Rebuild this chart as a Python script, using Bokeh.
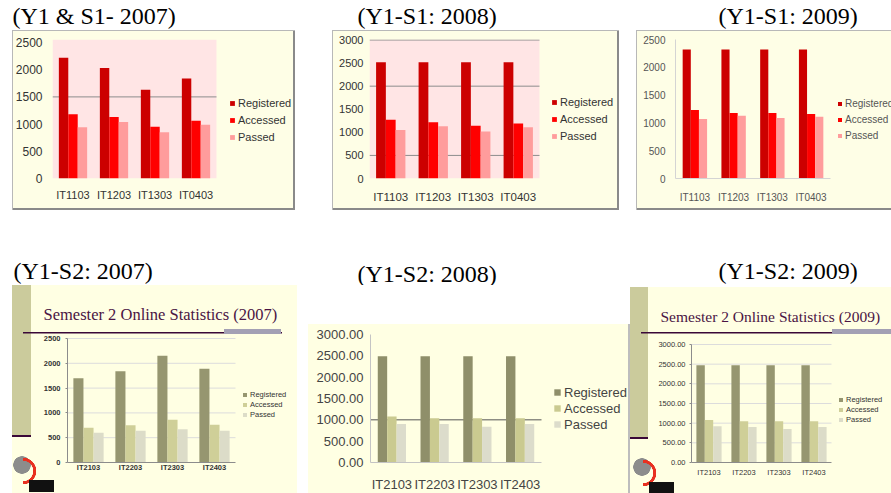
from bokeh.plotting import figure
from bokeh.models import (Range1d, FixedTicker, Legend, LegendItem, BoxAnnotation,
                          Spacer, ColumnDataSource, PrintfTickFormatter)
from bokeh.transform import dodge
from bokeh.layouts import row, column
from bokeh.embed import file_html
from bokeh.resources import INLINE
from bokeh.core.properties import value

SERIES = ["Registered", "Accessed", "Passed"]

# ---- data ----
s1_cats = ["IT1103", "IT1203", "IT1303", "IT0403"]
s1_2007_reg = [2220, 2030, 1630, 1840]
s1_2007_acc = [1180, 1130, 950, 1060]
s1_2007_pas = [940, 1040, 850, 990]

s1_2008_reg = [2520, 2520, 2520, 2520]
s1_2008_acc = [1270, 1220, 1140, 1190]
s1_2008_pas = [1050, 1130, 1020, 1110]

s1_2009_reg = [2320, 2320, 2320, 2320]
s1_2009_acc = [1230, 1180, 1180, 1160]
s1_2009_pas = [1070, 1130, 1090, 1110]

s2_cats = ["IT2103", "IT2203", "IT2303", "IT2403"]
s2_2007_reg = [1700, 1840, 2150, 1890]
s2_2007_acc = [700, 750, 860, 760]
s2_2007_pas = [600, 640, 670, 640]

s2_2008_reg = [2490, 2490, 2490, 2490]
s2_2008_acc = [1080, 1040, 1040, 1040]
s2_2008_pas = [900, 900, 840, 900]

s2_2009_reg = [2470, 2470, 2470, 2470]
s2_2009_acc = [1080, 1050, 1050, 1050]
s2_2009_pas = [920, 900, 850, 900]

ticks_2500 = [0, 500, 1000, 1500, 2000, 2500]
ticks_3000 = [0, 500, 1000, 1500, 2000, 2500, 3000]

top_titles = ["(Y1 & S1- 2007)", "(Y1-S1: 2008)", "(Y1-S1: 2009)"]
bottom_titles = ["(Y1-S2: 2007)", "(Y1-S2: 2008)", "(Y1-S2: 2009)"]
slide_titles = ["Semester 2 Online Statistics (2007)", "Semester 2 Online Statistics (2009)"]

RED = ["#cc0000", "#ff0000", "#ff9c9c"]
OLIVE = ["#969670", "#cfcf98", "#dcdcc8"]
SANS = "Liberation Sans"
SERIF = "Liberation Serif"
YEL = "#fefee6"
YEL2 = "#ffffe3"
PINK = "#ffe5e5"
BASE_SHIFT = 8


def chart(cats, reg, acc, pas, cw, ch, fl, ft, fw, fh, ymax, ym_off, yticks, gridticks,
          colors, plot_bg, bw, yfont, xfont, tick_color, grid_color,
          yaxis_color, xaxis_color, ystand, xstand, leg_loc, leg_glyph,
          leg_pitch, leg_font, styles, bold=False, fmt=None, tick_out=0,
          title=None, title_offset=0, title_standoff=10, title_size="17px"):
    n = len(cats)
    yend = ymax * fh / (fh - ym_off)
    full_w = cw - fl                      # frame runs to the right edge (legend inside)
    xend = 0.5 + n * full_w / fw
    p = figure(x_range=Range1d(0.5, xend), y_range=Range1d(0, yend),
               frame_width=full_w, frame_height=fh,
               min_border_left=fl, min_border_top=ft,
               min_border_right=0, min_border_bottom=ch - ft - fh,
               toolbar_location=None, output_backend="svg",
               border_fill_color=None, background_fill_color=None,
               outline_line_color=None, styles=styles)
    if title:
        p.title.text = title
        p.title.text_font = SERIF
        p.title.text_font_size = title_size
        p.title.text_font_style = "normal"
        p.title.text_color = "#4a1444"
        p.title.align = "left"
        p.title.offset = title_offset
        p.title.standoff = title_standoff
    if plot_bg:
        p.add_layout(BoxAnnotation(left=0.5, right=0.5 + n, fill_color=plot_bg,
                                   fill_alpha=1, line_color=None, level="underlay"))
    pos = list(range(1, n + 1))
    if gridticks:
        p.segment(x0=[0.5] * len(gridticks), x1=[0.5 + n] * len(gridticks),
                  y0=gridticks, y1=gridticks, line_color=grid_color, line_width=1)
    src = ColumnDataSource(dict(x=pos, cat=cats, Registered=reg, Accessed=acc, Passed=pas))
    rs = []
    for i, (name, col) in enumerate(zip(SERIES, colors)):
        r = p.vbar(x=dodge("x", (i - 1) * bw), top=name,
                   width=bw, source=src, fill_color=col, line_color=None)
        rs.append(r)
    p.grid.visible = False
    p.yaxis.ticker = FixedTicker(ticks=yticks)
    p.yaxis.bounds = (0, ymax)
    p.xaxis.ticker = FixedTicker(ticks=pos)
    p.xaxis.major_label_overrides = {k: c for k, c in zip(pos, cats)}
    p.xaxis.bounds = (0.5, 0.5 + n)
    if fmt:
        p.yaxis.formatter = PrintfTickFormatter(format=fmt)
    for ax, fs, st in ((p.yaxis, yfont, ystand), (p.xaxis, xfont, xstand)):
        ax.major_label_text_font = SANS
        ax.major_label_text_font_size = fs
        ax.major_label_text_color = tick_color
        ax.major_label_standoff = st
        ax.minor_tick_line_color = None
        ax.major_tick_in = 0
        if bold:
            ax.major_label_text_font_style = "bold"
    p.yaxis.axis_line_color = yaxis_color
    p.xaxis.axis_line_color = xaxis_color
    p.yaxis.major_tick_out = tick_out
    p.yaxis.major_tick_line_color = yaxis_color if tick_out else None
    p.xaxis.major_tick_line_color = None
    p.xaxis.major_tick_out = 0
    leg = Legend(items=[LegendItem(label=s, renderers=[r]) for s, r in zip(SERIES, rs)],
                 location=leg_loc, orientation="vertical",
                 glyph_width=leg_glyph, glyph_height=leg_glyph,
                 label_height=leg_pitch, spacing=0, label_standoff=3,
                 padding=0, margin=0, border_line_color=None,
                 background_fill_alpha=0,
                 label_text_font=SANS, label_text_font_size=leg_font,
                 label_text_color=tick_color)
    p.add_layout(leg)
    return p


def text_fig(w, h, xs, ys, texts):
    p = figure(width=w, height=h, x_range=Range1d(0, w), y_range=Range1d(h, 0),
               x_axis_type=None, y_axis_type=None, toolbar_location=None,
               output_backend="svg", min_border=0, outline_line_color=None,
               border_fill_color="white", background_fill_color="white")
    p.text(x=xs, y=[y - BASE_SHIFT for y in ys], text=texts, text_font=value(SERIF),
           text_font_size="24px", text_color="black", text_baseline="alphabetic")
    return p


def rect_layer(color, x, y, w, h):
    return f"linear-gradient({color}, {color}) {x}px {y}px / {w}px {h}px no-repeat"


def slide_bg(dy, cw, ch, strip_w, line_x0, line_w, line_y, bar_x0, bar_w, lx, ly):
    layers = [
        rect_layer("#a3a0b4", bar_x0, dy + line_y - 3, bar_w, 5),
        rect_layer("#3a0838", line_x0, dy + line_y, line_w, 1.5),
        rect_layer("#111111", lx + 17, dy + ly + 27, 25, 12),
        f"radial-gradient(circle at 0px 20px, transparent 10px, #e83020 10.5px, #e83020 13px, transparent 13.5px) {lx + 11}px {dy + ly - 2}px / 16px 42px no-repeat",
        f"radial-gradient(circle at {lx + 10}px {dy + ly + 12}px, #8c8c8c 0px, #8c8c8c 8.5px, transparent 9px) 0px 0px / 100% 100% no-repeat",
        rect_layer("#3a0838", 0, dy + 150, strip_w, 2),
        rect_layer("#cbcb9c", 0, dy, strip_w, 150),
        rect_layer(YEL2, 0, dy, cw, ch - dy),
    ]
    return {"background": ", ".join(layers)}


BOX = "inset 1px 1px 0 #b8b8b8, inset -2px -2px 0 #8a8a8a"
top_style = {"background-color": YEL, "box-shadow": BOX}

# ---- top row (shared borders: top 9, bottom 32) ----
p1 = chart(s1_cats, s1_2007_reg, s1_2007_acc, s1_2007_pas, 283, 180, 40, 9, 164, 139,
           2500, 3, ticks_2500, [1500], RED, PINK, 0.23, "12px", "11px", "#333333",
           "#8c8c8c", None, None, 10, 10, (177, 33), 6, 17, "11px", top_style)
p2 = chart(s1_cats, s1_2008_reg, s1_2008_acc, s1_2008_pas, 287, 180, 37, 9, 170, 139,
           3000, 0.5, ticks_3000, [500, 2000, 3000], RED, PINK, 0.23, "11px", "11.5px", "#333333",
           "#8c8c8c", None, None, 6, 12, (182, 34), 6, 17, "11px", top_style)
p3 = chart(s1_cats, s1_2009_reg, s1_2009_acc, s1_2009_pas, 255, 180, 39, 9, 155, 139,
           2500, 0, ticks_2500, None, RED, None, 0.21, "10px", "10px", "#555555",
           None, "#d4d4d4", "#d4d4d4", 10, 13, (162, 35), 5, 16, "10px",
           {"background-color": YEL, "box-shadow": "inset 1px 1px 0 #b8b8b8, inset 0 -2px 0 #8a8a8a"})

title_top = text_fig(891, 30, [12, 357, 718], [23, 23, 23], top_titles)
title_bottom = text_fig(891, 75, [13, 357, 718], [68, 71, 68], bottom_titles)

# ---- bottom row (shared borders: top 49, bottom 31) ----
p4 = chart(s2_cats, s2_2007_reg, s2_2007_acc, s2_2007_pas, 285, 208, 55, 49, 168, 128,
           2500, 4, ticks_2500, ticks_2500[1:], OLIVE, None, 0.24, "7.5px", "7.5px", "#333333",
           "#dcdcdc", "#8c8c8c", "#8c8c8c", 5, 0, (175, 43), 5, 10, "7.5px",
           slide_bg(0, 285, 208, 19, 11, 259, 47, 212, 57, 0, 168),
           bold=True, tick_out=2, title=slide_titles[0], title_offset=-24, title_standoff=22,
           title_size="16.5px")

p5_style = {"background": ", ".join([rect_layer("#bdbdbd", 320, 39, 2, 169),
                                      rect_layer(YEL2, 0, 39, 322, 169)])}
p5 = chart(s2_cats, s2_2008_reg, s2_2008_acc, s2_2008_pas, 322, 208, 62, 49, 171, 128,
           3000, 0, ticks_3000, [1000], ["#8f8f6a", "#caca90", "#dcdccb"], None, 0.22,
           "13px", "13px", "#444444", "#555555", "#c4c4c4", "#c4c4c4", 7, 14, (183, 30), 8, 16,
           "13px", p5_style, fmt="%.2f")

p6 = chart(s2_cats, s2_2009_reg, s2_2009_acc, s2_2009_pas, 261, 208, 61, 49, 140, 128,
           3000, 10, ticks_3000, ticks_3000[1:], OLIVE, None, 0.24, "7.5px", "7.5px", "#333333",
           "#dcdcdc", "#8c8c8c", "#8c8c8c", 4, 5, (147, 38), 5, 10, "7.5px",
           slide_bg(2, 261, 208, 18, 11, 250, 45, 202, 59, 2, 168),
           fmt="%.2f", tick_out=2, title=slide_titles[1], title_offset=-31, title_standoff=20,
           title_size="15.5px")

top = row(Spacer(width=12, height=180), p1, Spacer(width=37, height=180), p2,
          Spacer(width=17, height=180), p3)
bottom = row(Spacer(width=12, height=208), p4, Spacer(width=11, height=208), p5, p6)
layout = column(title_top, top, title_bottom, bottom)

open("out.html", "w").write(file_html(layout, INLINE))
